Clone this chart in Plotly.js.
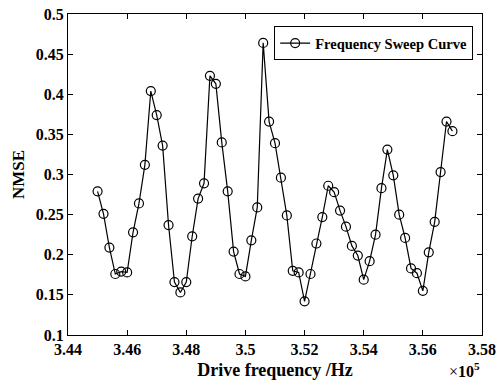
<!DOCTYPE html>
<html>
<head>
<meta charset="utf-8">
<script src="https://cdn.plot.ly/plotly-3.0.1.min.js"></script>
<style>html,body{margin:0;padding:0;background:#fff;}#chart{width:496px;height:385px;}</style>
</head>
<body>
<div id="chart"></div>
<script>
// Drive frequency in units of 1e5 Hz
const freq = [3.450,3.452,3.454,3.456,3.458,3.460,3.462,3.464,3.466,3.468,
  3.470,3.472,3.474,3.476,3.478,3.480,3.482,3.484,3.486,3.488,
  3.490,3.492,3.494,3.496,3.498,3.500,3.502,3.504,3.506,3.508,
  3.510,3.512,3.514,3.516,3.518,3.520,3.522,3.524,3.526,3.528,
  3.530,3.532,3.534,3.536,3.538,3.540,3.542,3.544,3.546,3.548,
  3.550,3.552,3.554,3.556,3.558,3.560,3.562,3.564,3.566,3.568,3.570];
const nmse = [0.279,0.251,0.209,0.176,0.179,0.178,0.228,0.264,0.312,0.404,
  0.374,0.336,0.237,0.166,0.153,0.166,0.223,0.270,0.289,0.423,
  0.413,0.340,0.279,0.204,0.176,0.173,0.218,0.259,0.464,0.366,
  0.339,0.296,0.249,0.180,0.178,0.142,0.176,0.214,0.247,0.286,
  0.278,0.255,0.235,0.211,0.199,0.169,0.192,0.225,0.283,0.331,
  0.299,0.250,0.221,0.183,0.177,0.155,0.203,0.241,0.303,0.366,0.354];
const xTicks = [3.44,3.46,3.48,3.50,3.52,3.54,3.56,3.58];
const xTickLabels = ['<b>3.44</b>','<b>3.46</b>','<b>3.48</b>','<b>3.5</b>','<b>3.52</b>','<b>3.54</b>','<b>3.56</b>','<b>3.58</b>'];
const yTicks = [0.1,0.15,0.2,0.25,0.3,0.35,0.4,0.45,0.5];
const yTickLabels = ['<b>0.1</b>','<b>0.15</b>','<b>0.2</b>','<b>0.25</b>','<b>0.3</b>','<b>0.35</b>','<b>0.4</b>','<b>0.45</b>','<b>0.5</b>'];
const seriesName = '<b>Frequency Sweep Curve</b>';

const font = {family: 'Liberation Serif', color: '#000'};
const trace = {
  x: freq, y: nmse, type: 'scatter', mode: 'lines+markers', name: seriesName,
  line: {color: '#000', width: 1.2},
  marker: {symbol: 'circle-open', size: 9, color: '#000', line: {width: 1.2, color: '#000'}}
};
const axisCommon = {
  showgrid: false, zeroline: false, showline: true, linecolor: '#000', linewidth: 1,
  mirror: 'ticks', ticks: 'inside', ticklen: 5, tickcolor: '#000', tickwidth: 1,
  tickfont: Object.assign({size: 16}, font)
};
const layout = {
  width: 496, height: 385,
  margin: {l: 68, r: 14, t: 14, b: 50},
  paper_bgcolor: '#fff', plot_bgcolor: '#fff',
  showlegend: true,
  legend: {x: 0.498, y: 0.962, xanchor: 'left', yanchor: 'top', bordercolor: '#000', borderwidth: 1,
    bgcolor: '#fff', font: Object.assign({size: 14.5}, font), tracegroupgap: 0},
  xaxis: Object.assign({}, axisCommon, {range: [3.44, 3.58], tickvals: xTicks, ticktext: xTickLabels,
    title: {text: '<b>Drive frequency /Hz</b>', font: Object.assign({size: 18}, font), standoff: 6}}),
  yaxis: Object.assign({}, axisCommon, {range: [0.1, 0.5], tickvals: yTicks, ticktext: yTickLabels,
    title: {text: '<b>NMSE</b>', font: Object.assign({size: 17}, font), standoff: 6}}),
  annotations: [{xref: 'paper', yref: 'paper', x: 1, y: 0, xanchor: 'right', yanchor: 'top', yshift: -23,
    showarrow: false, text: '×<b>10<sup>5</sup></b>', font: Object.assign({size: 16}, font)}]
};
Plotly.newPlot('chart', [trace], layout, {displayModeBar: false, staticPlot: true});
</script>
</body>
</html>
